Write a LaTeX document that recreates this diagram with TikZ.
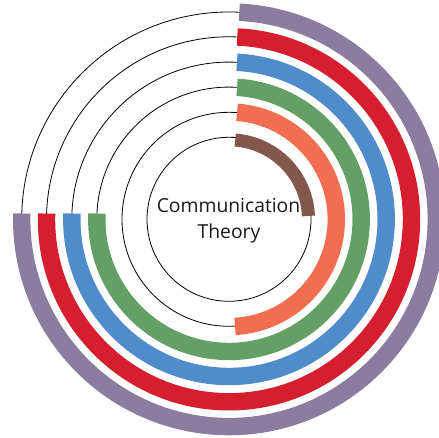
\documentclass[tikz,border=0pt]{standalone}
\usepackage{fontspec}
\setmainfont{Open Sans}
\definecolor{cpurple}{RGB}{139,125,160}
\definecolor{cred}{RGB}{213,31,46}
\definecolor{cblue}{RGB}{80,140,203}
\definecolor{cgreen}{RGB}{100,160,102}
\definecolor{corange}{RGB}{241,110,80}
\definecolor{cbrown}{RGB}{130,87,76}
\begin{document}
\begin{tikzpicture}[x=1pt,y=1pt,
  ring/.style={line width=0.8pt,black},
  band/.style={line width=17.4pt,line cap=butt},
  label/.style={font=\fontsize{19.3}{24}\selectfont,text=black!90,anchor=base,inner sep=0pt}]
\useasboundingbox (0,0) rectangle (439,438);
\coordinate (c) at (229,218.7);
\foreach \r in {82,107,132.2,157.2,182.5,207.3}
  \draw[ring] (c) circle[radius=\r];
\draw[band,cbrown,line width=13pt] ([shift={(85.5:79.5)}]c) arc[start angle=85.5,end angle=2.4,radius=79.5];
\draw[band,corange] ([shift={(85.7:107.3)}]c) arc[start angle=85.7,end angle=-86.8,radius=107.3];
\draw[band,cgreen] ([shift={(86.5:132.2)}]c) arc[start angle=86.5,end angle=-182.5,radius=132.2];
\draw[band,cblue] ([shift={(87.1:157.2)}]c) arc[start angle=87.1,end angle=-182.1,radius=157.2];
\draw[band,cred] ([shift={(87.4:182.5)}]c) arc[start angle=87.4,end angle=-181.8,radius=182.5];
\draw[band,cpurple] ([shift={(87.15:207.3)}]c) arc[start angle=87.15,end angle=-181.6,radius=207.3];
\node[label] (comm) at (228.5,225) {Communication};
\node[label] (theory) at (229,199) {Theory};
\end{tikzpicture}
\end{document}
